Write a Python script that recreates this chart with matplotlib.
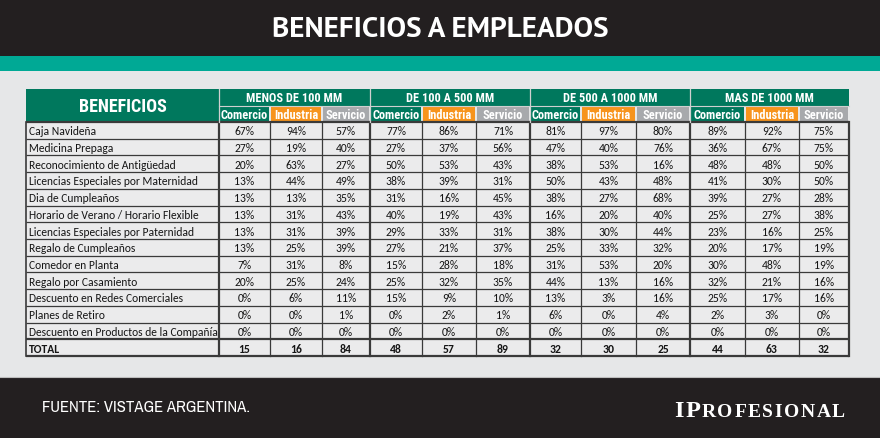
import numpy as np
import matplotlib
matplotlib.use("Agg")
import matplotlib.pyplot as plt
from matplotlib.patches import Rectangle

# data
benefits = ["Caja Navideña", "Medicina Prepaga", "Reconocimiento de Antigüedad",
            "Licencias Especiales por Maternidad", "Dia de Cumpleaños",
            "Horario de Verano / Horario Flexible", "Licencias Especiales por Paternidad",
            "Regalo de Cumpleaños", "Comedor en Planta", "Regalo por Casamiento",
            "Descuento en Redes Comerciales", "Planes de Retiro",
            "Descuento en Productos de la Compañía"]
groups = ["MENOS DE 100 MM", "DE 100 A 500 MM", "DE 500 A 1000 MM", "MAS DE 1000 MM"]
sectors = ["Comercio", "Industria", "Servicio"]

menos100_com = [67, 27, 20, 13, 13, 13, 13, 13, 7, 20, 0, 0, 0]
menos100_ind = [94, 19, 63, 44, 13, 31, 31, 25, 31, 25, 6, 0, 0]
menos100_ser = [57, 40, 27, 49, 35, 43, 39, 39, 8, 24, 11, 1, 0]
de100a500_com = [77, 27, 50, 38, 31, 40, 29, 27, 15, 25, 15, 0, 0]
de100a500_ind = [86, 37, 53, 39, 16, 19, 33, 21, 28, 32, 9, 2, 0]
de100a500_ser = [71, 56, 43, 31, 45, 43, 31, 37, 18, 35, 10, 1, 0]
de500a1000_com = [81, 47, 38, 50, 38, 16, 38, 25, 31, 44, 13, 6, 0]
de500a1000_ind = [97, 40, 53, 43, 27, 20, 30, 33, 53, 13, 3, 0, 0]
de500a1000_ser = [80, 76, 16, 48, 68, 40, 44, 32, 20, 16, 16, 4, 0]
mas1000_com = [89, 36, 48, 41, 39, 25, 23, 20, 30, 32, 25, 2, 0]
mas1000_ind = [92, 67, 48, 30, 27, 27, 16, 17, 48, 21, 17, 3, 0]
mas1000_ser = [75, 75, 50, 50, 28, 38, 25, 19, 19, 16, 16, 0, 0]
totals = [15, 16, 84, 48, 57, 89, 32, 30, 25, 44, 63, 32]

columns = [menos100_com, menos100_ind, menos100_ser,
           de100a500_com, de100a500_ind, de100a500_ser,
           de500a1000_com, de500a1000_ind, de500a1000_ser,
           mas1000_com, mas1000_ind, mas1000_ser]

# colours
DARK = "#231f20"
TEAL = "#00a995"
BG = "#e6e7e8"
CELL = "#ebebec"
GREEN = "#00785d"
ORANGE = "#f7941d"
GREY = "#a7a9ac"
LINE = "#3a3a3a"

TITLE_FONT = ["PT Sans", "DejaVu Sans"]
HEAD_FONT = ["Roboto Condensed", "DejaVu Sans"]
FOOT_FONT = ["Archivo Narrow", "DejaVu Sans"]
BODY = ["Carlito", "DejaVu Sans"]
LOGO_FONT = ["Liberation Serif", "DejaVu Serif"]

W, H = 880, 439
fig = plt.figure(figsize=(W / 100, H / 100), dpi=100)
ax = fig.add_axes([0, 0, 1, 1])
ax.set_xlim(0, W)
ax.set_ylim(H, 0)
ax.axis("off")

def box(x0, y0, x1, y1, color, **kw):
    ax.add_patch(Rectangle((x0, y0), x1 - x0, y1 - y0, facecolor=color,
                           edgecolor="none", **kw))

# bands
box(0, 0, W, H, BG)
box(0, 0, W, 57, DARK)
box(0, 57, W, 72, TEAL)
box(0, 378, W, H, DARK)
ax.plot([0, W], [378, 378], color="#bdbdbd", lw=0.8)

ax.text(W / 2, 30, "BENEFICIOS A EMPLEADOS", color="white", fontsize=21,
        fontweight="bold", family=TITLE_FONT, ha="center", va="center")

# table geometry
xl, xr = 26, 849
col_edges = [219, 270, 322, 370, 422, 476, 530, 581, 636, 690, 745, 799, 849]
y_top, y_sub, y_data = 90, 107, 123
n_rows = len(benefits) + 1
row_h = (357 - y_data) / n_rows
y_bot = y_data + n_rows * row_h

# header
box(xl, y_top, col_edges[0], y_data, GREEN)
ax.text((xl + col_edges[0]) / 2, (y_top + y_data) / 2 + 1, "BENEFICIOS", color="white",
        fontsize=13, fontweight="bold", family=HEAD_FONT, ha="center", va="center")
sector_colors = [GREEN, ORANGE, GREY]
for g, name in enumerate(groups):
    gx0, gx1 = col_edges[g * 3], col_edges[g * 3 + 3]
    box(gx0, y_top, gx1, y_sub, GREEN)
    ax.text((gx0 + gx1) / 2, (y_top + y_sub) / 2 + 0.5, name, color="white", fontsize=8.8,
            fontweight="bold", family=HEAD_FONT, ha="center", va="center")
    for s in range(3):
        cx0, cx1 = col_edges[g * 3 + s], col_edges[g * 3 + s + 1]
        box(cx0 + 0.8, y_sub + 0.8, cx1 - 0.8, y_data - 0.5, sector_colors[s])
        ax.text((cx0 + cx1) / 2, (y_sub + y_data) / 2 + 0.5, sectors[s], color="white",
                fontsize=8.9, fontweight="bold", family=HEAD_FONT, ha="center", va="center")

# body
box(xl, y_data, xr, y_bot, CELL)
for i in range(n_rows):
    yc = y_data + (i + 0.5) * row_h
    last = i == n_rows - 1
    label = "TOTAL" if last else benefits[i]
    ax.text(xl + 3, yc + 0.5, label, color="#151515", fontsize=8.3, family=BODY,
            fontweight="bold" if last else "normal", ha="left", va="center")
    for c in range(12):
        xc = (col_edges[c] + col_edges[c + 1]) / 2
        txt = str(totals[c]) if last else f"{columns[c][i]}%"
        ax.text(xc, yc + 0.5, txt, color="#151515", fontsize=8.4, family=BODY,
                fontweight="bold" if last else "normal", ha="center", va="center")

# grid lines
for i in range(n_rows + 1):
    y = y_data + i * row_h
    lw = 1.6 if i in (0, n_rows - 1, n_rows) else 0.9
    ax.plot([xl, xr], [y, y], color=LINE, lw=lw, solid_capstyle="butt")
ax.plot([xl, xl], [y_data, y_bot], color=LINE, lw=1.2)
for c, x in enumerate(col_edges):
    thick = c % 3 == 0
    ax.plot([x, x], [y_data, y_bot], color=LINE, lw=1.6 if thick else 0.9)
    if thick and 0 < c < 12:
        ax.plot([x, x], [y_top, y_data], color="#d0d0d0", lw=0.9)
ax.plot([col_edges[0], col_edges[0]], [y_top, y_data], color="#d0d0d0", lw=0.9)
for g in range(4):
    ax.plot([col_edges[g * 3], col_edges[g * 3 + 3]], [y_sub, y_sub], color="#d0d0d0", lw=0.8)

# footer
ax.text(42, 408, "FUENTE: VISTAGE ARGENTINA.", color="white", fontsize=12,
        family=FOOT_FONT, ha="left", va="center")

# logo in small caps, letter by letter with a little tracking
fig.canvas.draw()
r = fig.canvas.get_renderer()
inv = ax.transData.inverted()
x = 674
for k, ch in enumerate("IPROFESIONAL"):
    t = ax.text(x, 417, ch, color="white", fontsize=17.5 if k < 2 else 14,
                family=LOGO_FONT, fontweight="bold", ha="left", va="baseline")
    bb = t.get_window_extent(renderer=r)
    x = inv.transform((bb.x1, bb.y0))[0] + 1.6

fig.savefig("out.png", dpi=100, facecolor=DARK)
